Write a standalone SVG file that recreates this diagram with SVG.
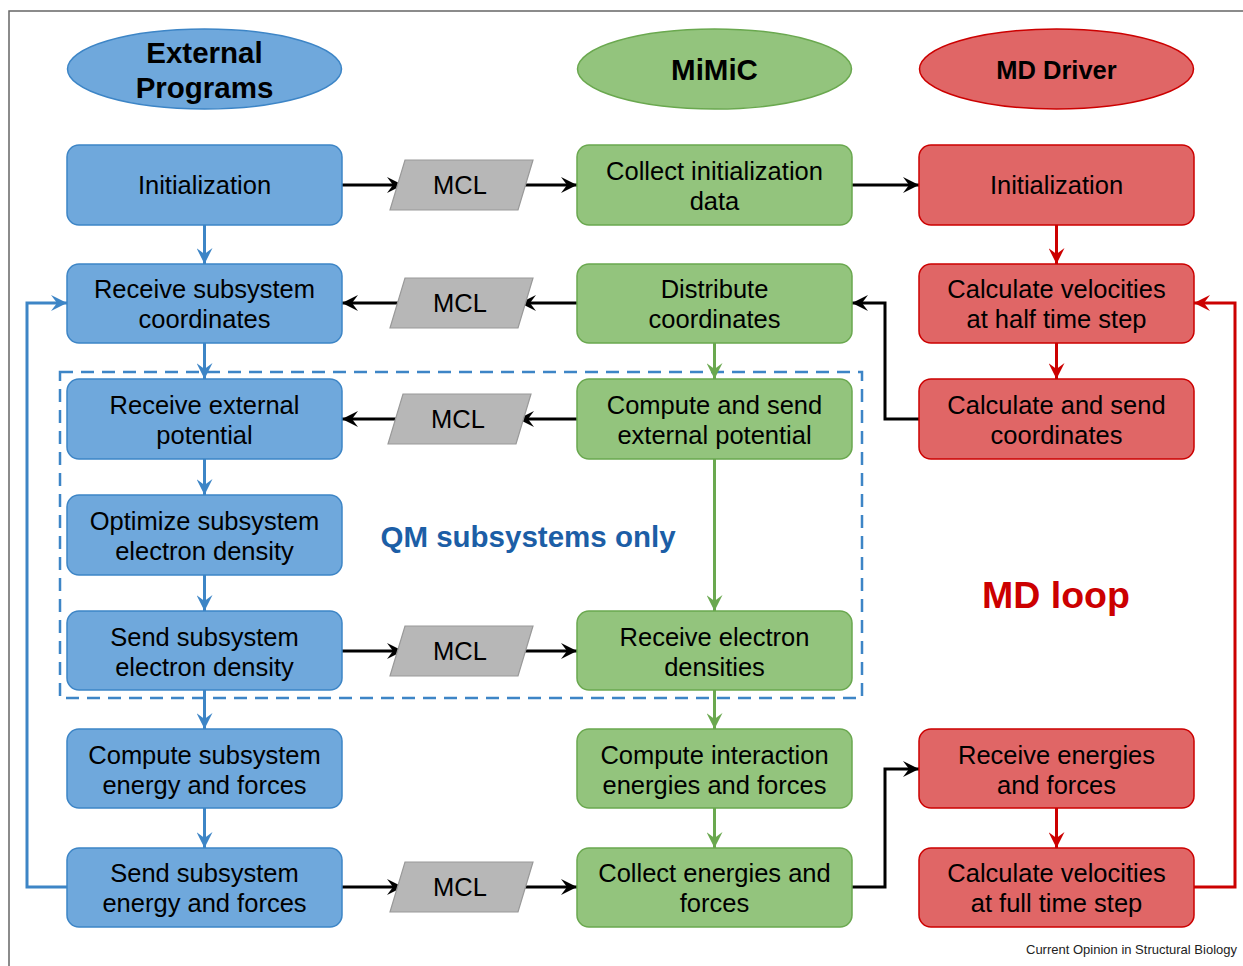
<svg xmlns="http://www.w3.org/2000/svg" width="1243" height="966" viewBox="0 0 1243 966">
<style>
text{font-family:"Liberation Sans",Arial,sans-serif;fill:#000;text-anchor:middle}
.t{font-size:25.5px}
.h{font-size:29.5px;font-weight:bold}
.b rect,.b ellipse{fill:#6fa8dc;stroke:#3d85c6;stroke-width:1.5}
.g rect,.g ellipse{fill:#93c47d;stroke:#6aa84f;stroke-width:1.5}
.r rect,.r ellipse{fill:#e06666;stroke:#cc0000;stroke-width:1.5}
.m polygon{fill:#b7b7b7;stroke:#999;stroke-width:1.2}
.c path{fill:none;stroke-width:3}
.k{stroke:#000;marker-end:url(#ak)}
.cb{stroke:#3d85c6;marker-end:url(#ab)}
.cg{stroke:#6aa84f;marker-end:url(#ag)}
.cr{stroke:#cc0000;marker-end:url(#ar)}
</style>
<defs>
<marker id="ak" markerUnits="userSpaceOnUse" markerWidth="17" markerHeight="16" refX="16" refY="8" orient="auto"><path d="M0,0 L16,8 L0,16 L6,8 z" fill="#000"/></marker>
<marker id="ab" markerUnits="userSpaceOnUse" markerWidth="17" markerHeight="16" refX="16" refY="8" orient="auto"><path d="M0,0 L16,8 L0,16 L6,8 z" fill="#3d85c6"/></marker>
<marker id="ag" markerUnits="userSpaceOnUse" markerWidth="17" markerHeight="16" refX="16" refY="8" orient="auto"><path d="M0,0 L16,8 L0,16 L6,8 z" fill="#6aa84f"/></marker>
<marker id="ar" markerUnits="userSpaceOnUse" markerWidth="17" markerHeight="16" refX="16" refY="8" orient="auto"><path d="M0,0 L16,8 L0,16 L6,8 z" fill="#cc0000"/></marker>
</defs>
<rect width="1243" height="966" fill="#fff"/>
<path d="M9,966 V11 H1243" fill="none" stroke="#666" stroke-width="1.5"/>

<!-- dashed region -->
<rect x="60" y="372" width="802" height="326" fill="none" stroke="#3d85c6" stroke-width="2.5" stroke-dasharray="13,8"/>

<!-- connectors -->
<g id="connectors" class="c">
<path class="k" d="M342,185 H403"/>
<path class="k" d="M518,185 H577"/>
<path class="k" d="M852,185 H919"/>
<path class="k" d="M577,303 H520"/>
<path class="k" d="M405,303 H342"/>
<path class="k" d="M577,419 H518"/>
<path class="k" d="M403,419 H342"/>
<path class="k" d="M342,651 H403"/>
<path class="k" d="M518,651 H577"/>
<path class="k" d="M342,887 H403"/>
<path class="k" d="M518,887 H577"/>
<path class="k" d="M919,419 H885 V303 H852"/>
<path class="k" d="M852,887 H885 V769 H919"/>
<path class="cb" d="M204.5,225 V264"/>
<path class="cb" d="M204.5,343 V379"/>
<path class="cb" d="M204.5,459 V495"/>
<path class="cb" d="M204.5,575 V611"/>
<path class="cb" d="M204.5,690 V729"/>
<path class="cb" d="M204.5,808 V848"/>
<path class="cb" d="M67,887 H27 V303 H67"/>
<path class="cg" d="M714.5,343 V379"/>
<path class="cg" d="M714.5,459 V611"/>
<path class="cg" d="M714.5,690 V729"/>
<path class="cg" d="M714.5,808 V848"/>
<path class="cr" d="M1056.5,225 V264"/>
<path class="cr" d="M1056.5,343 V379"/>
<path class="cr" d="M1056.5,808 V848"/>
<path class="cr" d="M1194,887 H1235 V303 H1194"/>
</g>

<!-- headers -->
<g id="hdr-ext" class="b"><ellipse cx="204.5" cy="69" rx="137" ry="40"/><text class="h" x="204.5" y="63">External</text><text class="h" x="204.5" y="98">Programs</text></g>
<g id="hdr-mimic" class="g"><ellipse cx="714.5" cy="69" rx="137" ry="40"/><text class="h" x="714.5" y="80">MiMiC</text></g>
<g id="hdr-md" class="r"><ellipse cx="1056.5" cy="69" rx="137" ry="40"/><text class="h" style="font-size:25.5px" x="1056.5" y="79">MD Driver</text></g>

<!-- blue column -->
<g id="b1" class="b"><rect x="67" y="145" width="275" height="80" rx="12"/><text class="t" x="204.5" y="194">Initialization</text></g>
<g id="b2" class="b"><rect x="67" y="264" width="275" height="79" rx="12"/><text class="t" x="204.5" y="298">Receive subsystem</text><text class="t" x="204.5" y="328">coordinates</text></g>
<g id="b3" class="b"><rect x="67" y="379" width="275" height="80" rx="12"/><text class="t" x="204.5" y="414">Receive external</text><text class="t" x="204.5" y="444">potential</text></g>
<g id="b4" class="b"><rect x="67" y="495" width="275" height="80" rx="12"/><text class="t" x="204.5" y="530">Optimize subsystem</text><text class="t" x="204.5" y="560">electron density</text></g>
<g id="b5" class="b"><rect x="67" y="611" width="275" height="79" rx="12"/><text class="t" x="204.5" y="646">Send subsystem</text><text class="t" x="204.5" y="676">electron density</text></g>
<g id="b6" class="b"><rect x="67" y="729" width="275" height="79" rx="12"/><text class="t" x="204.5" y="764">Compute subsystem</text><text class="t" x="204.5" y="794">energy and forces</text></g>
<g id="b7" class="b"><rect x="67" y="848" width="275" height="79" rx="12"/><text class="t" x="204.5" y="882">Send subsystem</text><text class="t" x="204.5" y="912">energy and forces</text></g>

<!-- MCL -->
<g id="mcl1" class="m"><polygon points="405,160 533,160 518,210 390,210"/><text class="t" x="460" y="194">MCL</text></g>
<g id="mcl2" class="m"><polygon points="405,278 533,278 518,328 390,328"/><text class="t" x="460" y="312">MCL</text></g>
<g id="mcl3" class="m"><polygon points="403,394 531,394 516,444 388,444"/><text class="t" x="458" y="428">MCL</text></g>
<g id="mcl4" class="m"><polygon points="405,626 533,626 518,676 390,676"/><text class="t" x="460" y="660">MCL</text></g>
<g id="mcl5" class="m"><polygon points="405,862 533,862 518,912 390,912"/><text class="t" x="460" y="896">MCL</text></g>

<!-- green column -->
<g id="g1" class="g"><rect x="577" y="145" width="275" height="80" rx="12"/><text class="t" x="714.5" y="180">Collect initialization</text><text class="t" x="714.5" y="210">data</text></g>
<g id="g2" class="g"><rect x="577" y="264" width="275" height="79" rx="12"/><text class="t" x="714.5" y="298">Distribute</text><text class="t" x="714.5" y="328">coordinates</text></g>
<g id="g3" class="g"><rect x="577" y="379" width="275" height="80" rx="12"/><text class="t" x="714.5" y="414">Compute and send</text><text class="t" x="714.5" y="444">external potential</text></g>
<g id="g4" class="g"><rect x="577" y="611" width="275" height="79" rx="12"/><text class="t" x="714.5" y="646">Receive electron</text><text class="t" x="714.5" y="676">densities</text></g>
<g id="g5" class="g"><rect x="577" y="729" width="275" height="79" rx="12"/><text class="t" x="714.5" y="764">Compute interaction</text><text class="t" x="714.5" y="794">energies and forces</text></g>
<g id="g6" class="g"><rect x="577" y="848" width="275" height="79" rx="12"/><text class="t" x="714.5" y="882">Collect energies and</text><text class="t" x="714.5" y="912">forces</text></g>

<!-- red column -->
<g id="r1" class="r"><rect x="919" y="145" width="275" height="80" rx="12"/><text class="t" x="1056.5" y="194">Initialization</text></g>
<g id="r2" class="r"><rect x="919" y="264" width="275" height="79" rx="12"/><text class="t" x="1056.5" y="298">Calculate velocities</text><text class="t" x="1056.5" y="328">at half time step</text></g>
<g id="r3" class="r"><rect x="919" y="379" width="275" height="80" rx="12"/><text class="t" x="1056.5" y="414">Calculate and send</text><text class="t" x="1056.5" y="444">coordinates</text></g>
<g id="r4" class="r"><rect x="919" y="729" width="275" height="79" rx="12"/><text class="t" x="1056.5" y="764">Receive energies</text><text class="t" x="1056.5" y="794">and forces</text></g>
<g id="r5" class="r"><rect x="919" y="848" width="275" height="79" rx="12"/><text class="t" x="1056.5" y="882">Calculate velocities</text><text class="t" x="1056.5" y="912">at full time step</text></g>

<text x="528" y="547" style="font-size:29.5px;font-weight:bold;fill:#1c5ea6">QM subsystems only</text>
<text x="1056" y="608" style="font-size:37.5px;font-weight:bold;fill:#cc0000">MD loop</text>
<text x="1237" y="954" style="font-size:13px;text-anchor:end;fill:#222">Current Opinion in Structural Biology</text>
</svg>
